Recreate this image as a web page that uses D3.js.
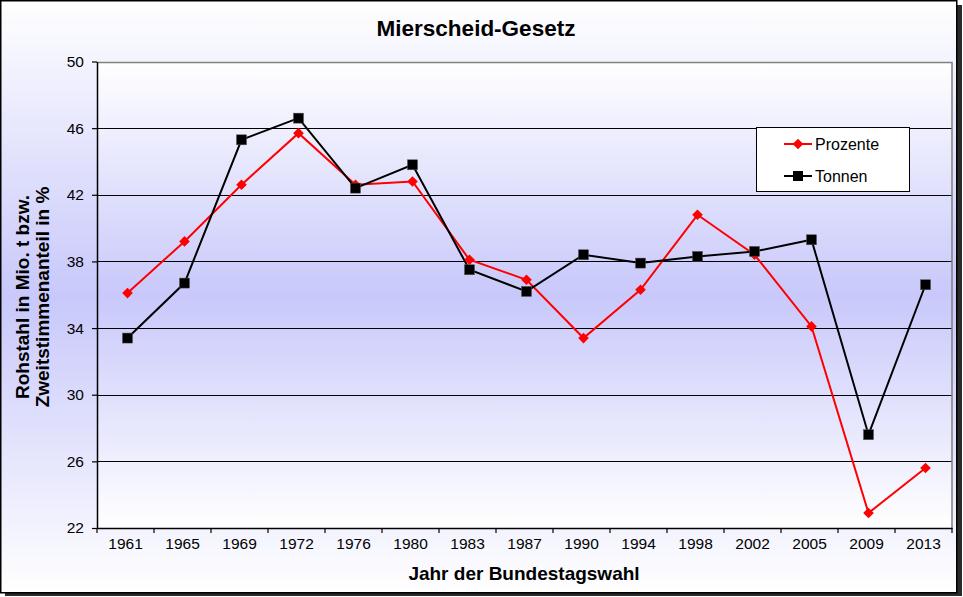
<!DOCTYPE html>
<html>
<head>
<meta charset="utf-8">
<script src="https://cdn.jsdelivr.net/npm/d3@7"></script>
<style>
  body { margin: 0; background: #fff; }
  text { font-family: "Liberation Sans", Arial, sans-serif; }
</style>
</head>
<body>
<div id="chart"></div>
<script>
// Wahljahre und Werte
const years = ["1961", "1965", "1969", "1972", "1976", "1980", "1983", "1987", "1990", "1994", "1998", "2002", "2005", "2009", "2013"];
const prozente = [36.1, 39.2, 42.6, 45.7, 42.6, 42.8, 38.1, 36.9, 33.4, 36.3, 40.8, 38.4, 34.1, 22.9, 25.6];
const tonnen = [33.4, 36.7, 45.3, 46.6, 42.4, 43.8, 37.5, 36.2, 38.4, 37.9, 38.3, 38.6, 39.3, 27.6, 36.6];
const yTicks = [22, 26, 30, 34, 38, 42, 46, 50];

const W = 963, H = 597;
const plot = { left: 97, right: 952, top: 61.5, bottom: 528 };

const svg = d3.select("#chart")
  .append("svg")
  .attr("width", W)
  .attr("height", H);

// Verlaeufe weiss -> lavendel -> weiss
const defs = svg.append("defs");
function addGradient(id) {
  const g = defs.append("linearGradient")
    .attr("id", id)
    .attr("x1", 0).attr("y1", 0).attr("x2", 0).attr("y2", 1);
  g.append("stop").attr("offset", "0%").attr("stop-color", "#ffffff");
  g.append("stop").attr("offset", "50%").attr("stop-color", "#c8c8fb");
  g.append("stop").attr("offset", "100%").attr("stop-color", "#ffffff");
}
addGradient("bgGrad");
addGradient("plotGrad");

// Schatten + Rahmen
svg.append("rect")
  .attr("x", 5).attr("y", 5)
  .attr("width", W - 6).attr("height", H - 6)
  .attr("fill", "#2a2a2a");
svg.append("rect")
  .attr("x", 0.75).attr("y", 0.75)
  .attr("width", 956).attr("height", 592)
  .attr("fill", "url(#bgGrad)")
  .attr("stroke", "#000")
  .attr("stroke-width", 1.5);

// Scales
const x = d3.scaleBand().domain(years).range([plot.left, plot.right]).padding(0);
const y = d3.scaleLinear().domain([22, 50]).range([plot.bottom, plot.top]);

// Plotflaeche
svg.append("rect")
  .attr("x", plot.left).attr("y", plot.top)
  .attr("width", plot.right - plot.left).attr("height", plot.bottom - plot.top)
  .attr("fill", "url(#plotGrad)");

// Gitterlinien
svg.append("g")
  .selectAll("line")
  .data(yTicks.filter(d => d > 22 && d < 50))
  .enter().append("line")
  .attr("x1", plot.left).attr("x2", plot.right)
  .attr("y1", d => Math.round(y(d)) + 0.5).attr("y2", d => Math.round(y(d)) + 0.5)
  .attr("stroke", "#000").attr("stroke-width", 1.2);

// Rand oben/rechts grau
svg.append("path")
  .attr("d", `M${plot.left},${Math.round(y(50)) + 0.5}H${plot.right}V${plot.bottom}`)
  .attr("fill", "none")
  .attr("stroke", "#808080")
  .attr("stroke-width", 1.5);

// Y-Achse
const yAxis = svg.append("g")
  .attr("transform", `translate(${plot.left},0)`)
  .call(d3.axisLeft(y).tickValues(yTicks).tickSize(5).tickPadding(8).tickSizeOuter(0));
yAxis.select(".domain").attr("stroke", "#000").attr("stroke-width", 1.5);
yAxis.selectAll(".tick line").attr("stroke", "#000").attr("stroke-width", 1.2);
yAxis.selectAll(".tick text")
  .attr("fill", "#000")
  .style("font-size", "15.5px")
  .style("font-family", "'Liberation Sans', Arial, sans-serif");

// X-Achse
const xAxis = svg.append("g")
  .attr("transform", `translate(0,${plot.bottom})`)
  .call(d3.axisBottom(x).tickSize(0).tickPadding(10).tickSizeOuter(0));
xAxis.select(".domain").attr("stroke", "#000").attr("stroke-width", 1.5);
xAxis.selectAll(".tick text")
  .attr("fill", "#000")
  .style("font-size", "15.5px")
  .style("font-family", "'Liberation Sans', Arial, sans-serif");

// Striche zwischen den Kategorien
const boundaries = years.map(d => x(d)).concat([x(years[years.length - 1]) + x.bandwidth()]);
xAxis.selectAll(".bound")
  .data(boundaries)
  .enter().append("line")
  .attr("class", "bound")
  .attr("x1", d => d).attr("x2", d => d)
  .attr("y1", 0).attr("y2", 5)
  .attr("stroke", "#000").attr("stroke-width", 1.2);

// Punkte sitzen im Original leicht rechts der Kategoriemitte
const cx = d => x(d) + x.bandwidth() / 2 + 2;

// Linien
const line = d3.line()
  .x((d, i) => cx(years[i]))
  .y(d => y(d));

svg.append("path")
  .datum(prozente)
  .attr("fill", "none")
  .attr("stroke", "#ff0000")
  .attr("stroke-width", 2)
  .attr("d", line);

svg.append("path")
  .datum(tonnen)
  .attr("fill", "none")
  .attr("stroke", "#000")
  .attr("stroke-width", 2)
  .attr("d", line);

// Marker
const diamond = d3.symbol().type(d3.symbolDiamond2).size(72);
svg.append("g")
  .selectAll("path")
  .data(prozente)
  .enter().append("path")
  .attr("transform", (d, i) => `translate(${cx(years[i])},${y(d)})`)
  .attr("d", diamond)
  .attr("fill", "#ff0000");

const sq = 10;
svg.append("g")
  .selectAll("rect")
  .data(tonnen)
  .enter().append("rect")
  .attr("x", (d, i) => cx(years[i]) - sq / 2)
  .attr("y", d => y(d) - sq / 2)
  .attr("width", sq).attr("height", sq)
  .attr("fill", "#000")
  .attr("stroke", "#555")
  .attr("stroke-width", 0.5);

// Legende
const legend = svg.append("g").attr("transform", "translate(756,127)");
legend.append("rect")
  .attr("x", 0.5).attr("y", 0.5)
  .attr("width", 153).attr("height", 64)
  .attr("fill", "#fff")
  .attr("stroke", "#000")
  .attr("stroke-width", 1);

const items = [
  { name: "Prozente", color: "#ff0000", shape: "diamond", y: 17 },
  { name: "Tonnen", color: "#000", shape: "square", y: 49 }
];
items.forEach(it => {
  legend.append("line")
    .attr("x1", 28).attr("x2", 56)
    .attr("y1", it.y).attr("y2", it.y)
    .attr("stroke", it.color).attr("stroke-width", 2);
  if (it.shape === "diamond") {
    legend.append("path")
      .attr("transform", `translate(42,${it.y})`)
      .attr("d", diamond)
      .attr("fill", it.color);
  } else {
    legend.append("rect")
      .attr("x", 42 - sq / 2).attr("y", it.y - sq / 2)
      .attr("width", sq).attr("height", sq)
      .attr("fill", it.color);
  }
  legend.append("text")
    .attr("x", 59).attr("y", it.y)
    .attr("dy", "0.36em")
    .style("font-size", "16px")
    .text(it.name);
});

// Titel
svg.append("text")
  .attr("x", 476).attr("y", 36)
  .attr("text-anchor", "middle")
  .style("font-size", "22.5px")
  .style("font-weight", "bold")
  .text("Mierscheid-Gesetz");

// X-Achsentitel
svg.append("text")
  .attr("x", 524).attr("y", 580)
  .attr("text-anchor", "middle")
  .style("font-size", "19px")
  .style("font-weight", "bold")
  .text("Jahr der Bundestagswahl");

// Y-Achsentitel (zweizeilig)
const yTitle = svg.append("text")
  .attr("transform", "translate(0,297) rotate(-90)")
  .attr("text-anchor", "middle")
  .style("font-size", "19px")
  .style("font-weight", "bold");
yTitle.append("tspan").attr("x", 0).attr("y", 29).text("Rohstahl in Mio. t bzw.");
yTitle.append("tspan").attr("x", 0).attr("y", 49).text("Zweitstimmenanteil in %");
</script>
</body>
</html>
